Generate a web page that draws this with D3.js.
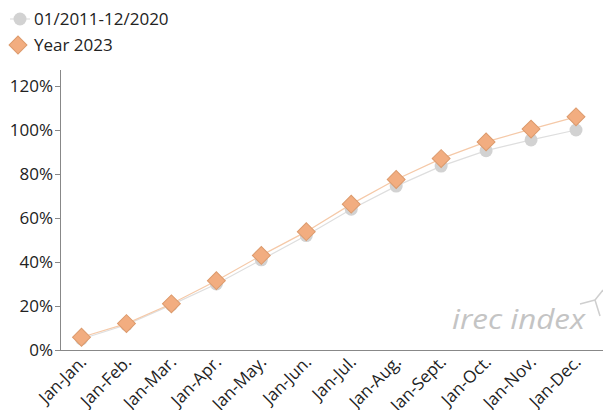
<!DOCTYPE html>
<html><head><meta charset="utf-8">
<script src="https://cdn.jsdelivr.net/npm/d3@7"></script>
<style>body{margin:0;background:#fff;} text{font-family:"Open Sans","Noto Sans",sans-serif;}</style>
</head><body>
<svg id="c" width="603" height="410"></svg>
<script>
const categories = ["Jan-Jan.","Jan-Feb.","Jan-Mar.","Jan-Apr.","Jan-May.","Jan-Jun.","Jan-Jul.","Jan-Aug.","Jan-Sept.","Jan-Oct.","Jan-Nov.","Jan-Dec."];
const avg2011_2020 = [5, 11.5, 20.5, 30, 41, 52, 64, 74.5, 83.6, 90.6, 95.5, 100];
const year2023 = [5.8, 12, 21, 31.5, 43, 53.8, 66.3, 77.5, 87, 94.6, 100.4, 106];
const yTicks = [0, 20, 40, 60, 80, 100, 120];
const seriesNames = ["01/2011-12/2020", "Year 2023"];

const svg = d3.select("#c");
const x = d3.scalePoint().domain(categories).range([81.5, 576]);
const y = d3.scaleLinear().domain([0, 120]).range([350, 86]);

// axes
const yAxis = svg.append("g").attr("transform","translate(60,0)")
  .call(d3.axisLeft(y).tickValues(yTicks).tickFormat(d=>d+"%").tickSize(5).tickSizeOuter(0));
yAxis.select(".domain").remove();
yAxis.selectAll("line").attr("stroke","#888");
yAxis.selectAll("text").attr("font-size",17).attr("fill","#222").attr("x",-7).attr("dy","0.35em");
svg.append("line").attr("x1",60.5).attr("x2",60.5).attr("y1",70).attr("y2",350).attr("stroke","#888");
svg.append("line").attr("x1",60).attr("x2",603).attr("y1",350.5).attr("y2",350.5).attr("stroke","#888");

const xg = svg.append("g").attr("transform","translate(0,350)");
xg.selectAll("text").data(categories).join("text")
  .attr("transform", d => `translate(${x(d)-3},${4}) rotate(-45)`)
  .attr("text-anchor","end").attr("dy","0.75em").attr("font-size",17).attr("fill","#222").text(d=>d);

// watermark
const wm = svg.append("g");
wm.append("text").attr("x",452).attr("y",329).attr("font-size",28).attr("font-style","italic")
  .attr("textLength",133).attr("lengthAdjust","spacingAndGlyphs")
  .attr("fill","#c4c4c4").attr("font-family","Open Sans, sans-serif").text("irec index");
wm.append("g").attr("stroke","#cfcfcf").attr("stroke-width",1.5).attr("fill","none")
  .selectAll("line").data([[595,300,580,304],[595,300,603,290],[595,300,600,316]]).join("line")
  .attr("x1",d=>d[0]).attr("y1",d=>d[1]).attr("x2",d=>d[2]).attr("y2",d=>d[3]);

// lines
const line = d3.line().x((d,i)=>x(categories[i])).y(d=>y(d));
svg.append("path").datum(avg2011_2020).attr("d",line).attr("fill","none").attr("stroke","#dedede").attr("stroke-width",1.2);
svg.append("path").datum(year2023).attr("d",line).attr("fill","none").attr("stroke","#f5c9a8").attr("stroke-width",1.2);

svg.append("g").selectAll("circle").data(avg2011_2020).join("circle")
  .attr("cx",(d,i)=>x(categories[i])).attr("cy",d=>y(d)).attr("r",6.5).attr("fill","#d2d2d2");

const diamond = d3.symbol().type(d3.symbolSquare).size(160);
svg.append("g").selectAll("path").data(year2023).join("path")
  .attr("d",diamond)
  .attr("transform",(d,i)=>`translate(${x(categories[i])},${y(d)}) rotate(45)`)
  .attr("fill","#f2ad80").attr("stroke","#dc9a6c").attr("stroke-width",1);

// legend
const lg = svg.append("g");
lg.append("line").attr("x1",10).attr("x2",30).attr("y1",19).attr("y2",19).attr("stroke","#dedede").attr("stroke-width",1.2);
lg.append("circle").attr("cx",20).attr("cy",19).attr("r",6.5).attr("fill","#d2d2d2");
lg.append("path").attr("d",diamond).attr("transform","translate(18,45) rotate(45)").attr("fill","#f2ad80").attr("stroke","#dc9a6c");
lg.append("text").attr("x",34).attr("y",19).attr("dy","0.35em").attr("font-size",17).attr("fill","#222").text(seriesNames[0]);
lg.append("text").attr("x",34).attr("y",45).attr("dy","0.35em").attr("font-size",17).attr("fill","#222").text(seriesNames[1]);
</script>
</body></html>
